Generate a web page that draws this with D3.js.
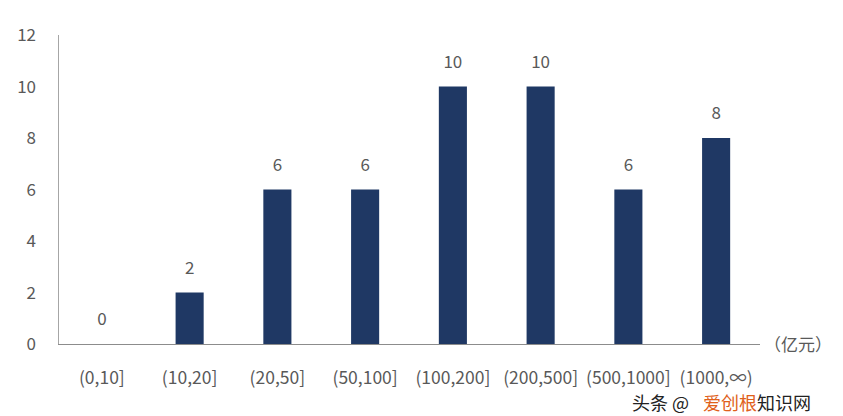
<!DOCTYPE html>
<html><head><meta charset="utf-8">
<script src="https://cdn.jsdelivr.net/npm/d3@7"></script>
<style>body{margin:0;background:#fff;} svg{display:block;}</style>
</head><body>
<svg id="c" width="843" height="416"></svg>
<script>
const categories = ["(0,10]","(10,20]","(20,50]","(50,100]","(100,200]","(200,500]","(500,1000]","(1000,∞)"];
const values = [0,2,6,6,10,10,6,8];
const yTicks = [0,2,4,6,8,10,12];
const unitLabel = "（亿元）";

const svg = d3.select("#c");
const font = "'Noto Sans CJK SC','Noto Sans',sans-serif";
const x = d3.scaleBand().domain(categories).range([58,760]).padding(0);
const y = d3.scaleLinear().domain([0,12]).range([344,35]);
const barW = x.bandwidth()*0.32;

svg.append("line").attr("x1",58.5).attr("x2",58.5).attr("y1",y(12)).attr("y2",y(0))
  .attr("stroke","#a6a6a6").attr("stroke-width",1);

svg.append("g").selectAll("text").data(yTicks).join("text")
  .attr("x",36).attr("y",d=>y(d)).attr("dy","0.36em").attr("text-anchor","end")
  .attr("font-family",font).attr("font-size",17).attr("fill","#595959").text(d=>d);

svg.append("g").selectAll("rect").data(values).join("rect")
  .attr("x",(d,i)=>x(categories[i])+x.bandwidth()/2-barW/2)
  .attr("width",barW)
  .attr("y",d=>y(d)).attr("height",d=>y(0)-y(d))
  .attr("fill","#1f3864");

svg.append("line").attr("x1",58).attr("x2",760).attr("y1",344.5).attr("y2",344.5)
  .attr("stroke","#8c8c8c").attr("stroke-width",1);

svg.append("g").selectAll("text").data(values).join("text")
  .attr("x",(d,i)=>x(categories[i])+x.bandwidth()/2)
  .attr("y",d=>y(d)-19).attr("text-anchor","middle")
  .attr("font-family",font).attr("font-size",17).attr("fill","#595959").text(d=>d);

svg.append("g").selectAll("text").data(categories).join("text")
  .attr("x",d=>x(d)+x.bandwidth()/2).attr("y",384).attr("text-anchor","middle")
  .attr("font-family",font).attr("font-size",17.5).attr("fill","#595959").text(d=>d);

svg.append("text").attr("x",798).attr("y",351).attr("text-anchor","middle")
  .attr("font-family",font).attr("font-size",17).attr("fill","#595959").text(unitLabel);

const wm = svg.append("text").attr("x",632).attr("y",410)
  .attr("font-family",font).attr("font-size",18);
wm.append("tspan").attr("fill","#222").text("头条 @");
wm.append("tspan").attr("dx",14).attr("fill","#e0601a").text("爱创根");
wm.append("tspan").attr("fill","#222").text("知识网");
</script>
</body></html>
